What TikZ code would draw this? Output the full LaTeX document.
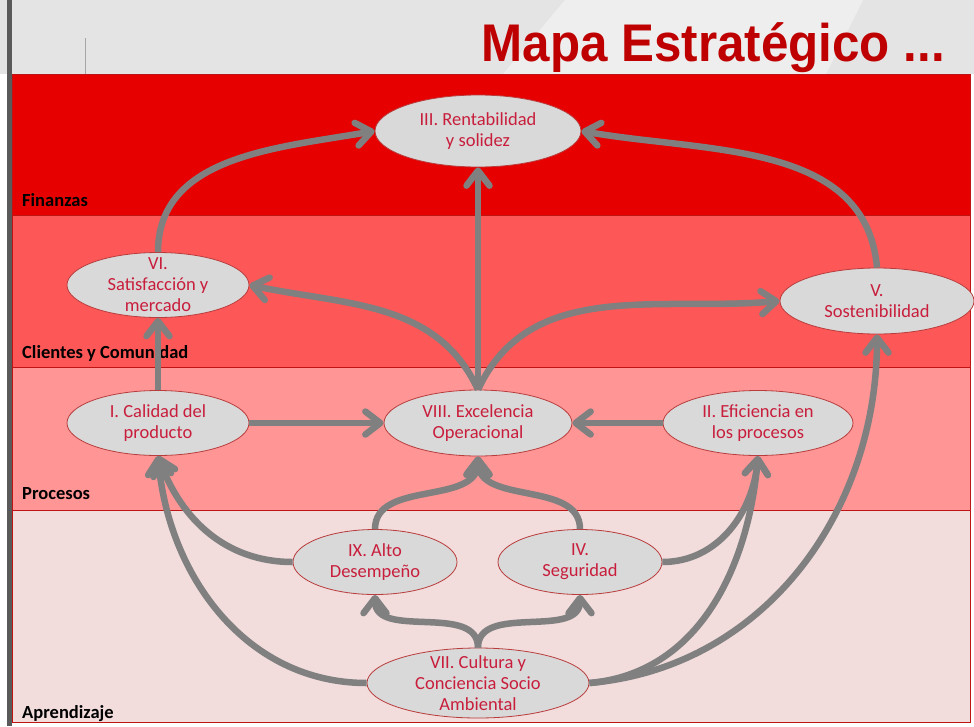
\documentclass[tikz,border=0pt]{standalone}
\usepackage{fontspec}
\setmainfont{Carlito}
\newfontfamily\titlefont{Liberation Sans}
\usetikzlibrary{shapes.geometric, positioning, arrows.meta}
\definecolor{headgray}{RGB}{228,228,228}
\definecolor{headlight}{RGB}{238,238,238}
\definecolor{bargray}{RGB}{90,90,90}
\definecolor{titlered}{RGB}{190,0,0}
\definecolor{finred}{RGB}{230,0,0}
\definecolor{clired}{RGB}{254,87,87}
\definecolor{prored}{RGB}{255,149,149}
\definecolor{aprpink}{RGB}{242,220,220}
\definecolor{bandline}{RGB}{190,20,20}
\definecolor{objfill}{RGB}{217,217,217}
\definecolor{objline}{RGB}{185,60,60}
\definecolor{objtext}{RGB}{200,30,60}
\definecolor{linkgray}{RGB}{128,128,128}

\begin{document}
\begin{tikzpicture}[x=1pt,y=-1pt,on grid,
  obj/.style={ellipse, draw=objline, line width=0.8pt, fill=objfill, text=objtext,
    inner sep=-12pt, minimum width=182pt, minimum height=65pt, align=center,
    font=\fontsize{18.5}{21}\selectfont},
  band/.style={draw=bandline, line width=0.8pt},
  lane/.style={anchor=base west, inner sep=0pt, font=\bfseries\fontsize{18.5}{18.5}\selectfont},
  link/.style={-{Straight Barb[length=15pt,width=23pt,round]}, line width=6.5pt, draw=linkgray}]

\useasboundingbox (0,0) rectangle (974,726);

% header
\fill[headgray] (0,0) rectangle (974,74);
\fill[headlight] (565,0) -- (863,0) -- (826,74) -- (503,74) -- cycle;
\fill[bargray] (7,0) rectangle (12,726);
\draw[gray!70, line width=0.8pt] (85,38) -- (85,74);
\node[anchor=base east, inner sep=0pt, text=titlered, xscale=0.93,
  font=\titlefont\bfseries\fontsize{53}{53}\selectfont] (title) at (945,61) {Mapa Estratégico ...};

% bands
\filldraw[band, fill=finred] (12,74) rectangle (970,215);
\filldraw[band, fill=clired] (12,215) rectangle (970,367);
\filldraw[band, fill=prored] (12,367) rectangle (970,510);
\filldraw[band, fill=aprpink] (12,510) rectangle (970,722);

\node[lane] (fin) at (22,206) {Finanzas};
\node[lane] (cli) at (22,358) {Clientes y Comunidad};
\node[lane] (pro) at (22,499) {Procesos};
\node[lane] (apr) at (22,718) {Aprendizaje};

% objectives
\node[obj, minimum width=188pt, minimum height=66pt] (exc) at (478,423) {VIII. Excelencia\\Operacional};
\node[obj] (cal) [left=320pt of exc] {I. Calidad del\\producto};
\node[obj, minimum width=190pt] (efi) [right=280pt of exc] {II. Eficiencia en\\los procesos};
\node[obj] (sat) [above=138pt of cal] {VI.\\Satisfacción y\\mercado};
\node[obj, minimum width=206pt, minimum height=72pt] (rent) [above=292pt of exc] {III. Rentabilidad\\y solidez};
\node[obj, minimum width=194pt, minimum height=66pt] (sos) [above right=122pt and 399pt of exc] {V.\\Sostenibilidad};
\node[obj, minimum width=164pt] (alto) [below left=139pt and 103pt of exc] {IX. Alto\\Desempeño};
\node[obj, minimum width=164pt] (seg) [below right=139pt and 102pt of exc] {IV.\\Seguridad};
\node[obj, minimum width=222pt, minimum height=70pt] (cul) [below=260pt of exc] {VII. Cultura y\\Conciencia Socio\\Ambiental};

% links
\draw[link] (sat.north) to[out=90,in=190] (rent.west);
\draw[link] (sos.north) to[out=95,in=-10] (rent.east);
\draw[link] (exc.north) -- (rent.south);
\draw[link] (exc.north) to[out=115,in=-12] (sat.east);
\draw[link] (exc.north) to[out=65,in=185] (sos.west);
\draw[link] (cal.east) -- (exc.west);
\draw[link] (efi.west) -- (exc.east);
\draw[link] (cal.north) -- (sat.south);
\draw[link] (alto.north) to[out=90,in=-90] (exc.south);
\draw[link] (seg.north) to[out=90,in=-90] (exc.south);
\draw[link] (cul.north) to[out=90,in=-90] (alto.south);
\draw[link] (cul.north) to[out=90,in=-90] (seg.south);
\draw[link] (cul.west) to[out=180,in=-85] (cal.south);
\draw[link] (alto.west) to[out=180,in=-70] (cal.south);
\draw[link] (seg.east) to[out=0,in=-95] (efi.south);
\draw[link] (cul.east) to[out=5,in=-95] (efi.south);
\draw[link] (cul.east) to[out=5,in=-90] (sos.south);
\end{tikzpicture}
\end{document}
